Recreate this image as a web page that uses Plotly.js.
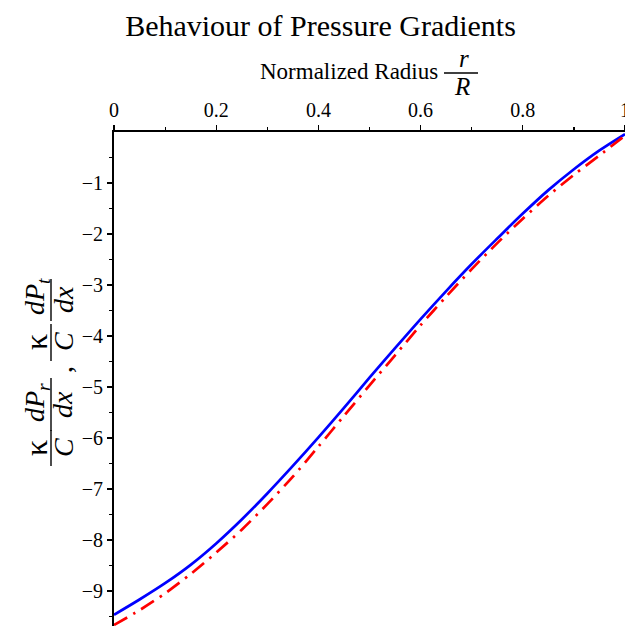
<!DOCTYPE html>
<html>
<head>
<meta charset="utf-8">
<script src="https://cdn.plot.ly/plotly-3.0.1.min.js"></script>
<style>
  html, body { margin: 0; padding: 0; background: #ffffff; }
  #chart { width: 625px; height: 626px; }
</style>
</head>
<body>
<div id="chart"></div>
<script>
// ---- data ----
const radius = [0, 0.05, 0.10, 0.15, 0.20, 0.25, 0.30, 0.35, 0.40, 0.45, 0.50,
                0.55, 0.60, 0.65, 0.70, 0.75, 0.80, 0.85, 0.90, 0.95, 1.00];
const radialGradient = [-9.47, -9.17, -8.85, -8.49, -8.07, -7.60, -7.09, -6.55, -5.99, -5.41, -4.82,
                        -4.24, -3.67, -3.12, -2.59, -2.09, -1.60, -1.14, -0.73, -0.36, -0.04];
const tangentialGradient = [-9.67, -9.38, -9.05, -8.67, -8.25, -7.80, -7.30, -6.76, -6.17, -5.57, -4.97,
                            -4.38, -3.79, -3.23, -2.69, -2.18, -1.70, -1.25, -0.84, -0.46, -0.07];
const xTickVals = [0, 0.2, 0.4, 0.6, 0.8, 1];
const xTickText = ['0', '0.2', '0.4', '0.6', '0.8', '1'];
const xMinorVals = [0.1, 0.3, 0.5, 0.7, 0.9];
const yTickVals = [-1, -2, -3, -4, -5, -6, -7, -8, -9];
const yTickText = ['\u22121', '\u22122', '\u22123', '\u22124', '\u22125', '\u22126', '\u22127', '\u22128', '\u22129'];
const yMinorVals = [-0.5, -1.5, -2.5, -3.5, -4.5, -5.5, -6.5, -7.5, -8.5, -9.5];
const titleText = 'Behaviour of Pressure Gradients';
const xTitleText = 'Normalized Radius';

// ---- layout geometry ----
const W = 625, H = 626;
const M = {l: 114, r: 0, t: 132, b: 0};
const PW = W - M.l - M.r, PH = H - M.t - M.b;
const px = v => (v - M.l) / PW;         // pixel x -> paper x
const py = v => (H - M.b - v) / PH;     // pixel y -> paper y

const serif = '"Liberation Serif"';
const black = '#000000';

const traces = [
  {x: radius, y: radialGradient, type: 'scatter', mode: 'lines',
   line: {color: '#0000ff', width: 2.7, shape: 'spline', smoothing: 0.8}, name: 'radial'},
  {x: radius, y: tangentialGradient, type: 'scatter', mode: 'lines',
   line: {color: '#ff0000', width: 2.7, shape: 'spline', smoothing: 0.8, dash: '15px,7px,2.5px,7px'}, name: 'tangential'}
];

function ann(text, xpx, ypx, size, extra) {
  return Object.assign({
    text: text, xref: 'paper', yref: 'paper', x: px(xpx), y: py(ypx),
    xanchor: 'center', yanchor: 'middle', showarrow: false, borderpad: 0,
    font: {family: serif, size: size, color: black}
  }, extra || {});
}
function hline(x0, x1, y) {
  return {type: 'line', xref: 'paper', yref: 'paper', x0: px(x0), x1: px(x1), y0: py(y), y1: py(y),
          line: {color: black, width: 1.4}};
}
function vline(x, y0, y1) {
  return {type: 'line', xref: 'paper', yref: 'paper', x0: px(x), x1: px(x), y0: py(y0), y1: py(y1),
          line: {color: black, width: 1.4}};
}

const rot = {textangle: -90};
const YS = 28, KS = 32;
const annotations = [
  ann(xTitleText, 348.7, 72, 23),
  ann('<i>r</i>', 464, 58, 25),
  ann('<i>R</i>', 461.5, 87, 25),
  // y title: kappa/C dPr/dx , kappa/C dPt/dx  (rotated)
  ann('\u03ba', 36, 448, KS, rot),
  ann('<i>C</i>', 63, 448, YS, rot),
  ann('<i>dP</i><sub><i>r</i></sub>', 36, 403, YS, rot),
  ann('<i>dx</i>', 63, 405, YS, rot),
  ann(',', 62, 370, YS, rot),
  ann('\u03ba', 36, 342, KS, rot),
  ann('<i>C</i>', 63, 342, YS, rot),
  ann('<i>dP</i><sub><i>t</i></sub>', 36, 297, YS, rot),
  ann('<i>dx</i>', 63, 300, YS, rot)
];
const shapes = [
  hline(444, 478, 73),
  vline(51, 430, 466),
  vline(51, 378, 431),
  vline(51, 324, 361),
  vline(51, 279, 321)
];

const layout = {
  width: W, height: H,
  margin: M,
  paper_bgcolor: '#ffffff', plot_bgcolor: '#ffffff',
  showlegend: false,
  font: {family: serif, size: 20, color: black},
  title: {text: titleText, font: {family: serif, size: 30, color: black},
          xref: 'container', x: 320.5 / W, xanchor: 'center',
          yref: 'container', y: 1 - 25 / H, yanchor: 'middle'},
  xaxis: {
    range: [0, 1], side: 'top', showgrid: false, zeroline: false,
    showline: true, linecolor: black, linewidth: 2, mirror: false,
    ticks: 'outside', ticklen: 5, tickwidth: 1.4, tickcolor: black,
    tickvals: xTickVals, ticktext: xTickText, ticklabeloverflow: 'allow',
    tickfont: {family: serif, size: 20, color: black},
    minor: {tickvals: xMinorVals, ticks: 'outside', ticklen: 3, tickwidth: 1.2, tickcolor: black},
    fixedrange: true
  },
  yaxis: {
    range: [-9.69, 0], showgrid: false, zeroline: false,
    showline: true, linecolor: black, linewidth: 2, mirror: false,
    ticks: 'outside', ticklen: 5, tickwidth: 1.4, tickcolor: black,
    tickvals: yTickVals, ticktext: yTickText, ticklabeloverflow: 'allow',
    tickfont: {family: serif, size: 20, color: black},
    minor: {tickvals: yMinorVals, ticks: 'outside', ticklen: 3, tickwidth: 1.2, tickcolor: black},
    fixedrange: true
  },
  annotations: annotations,
  shapes: shapes
};

Plotly.newPlot('chart', traces, layout, {staticPlot: true, displayModeBar: false});
</script>
</body>
</html>
